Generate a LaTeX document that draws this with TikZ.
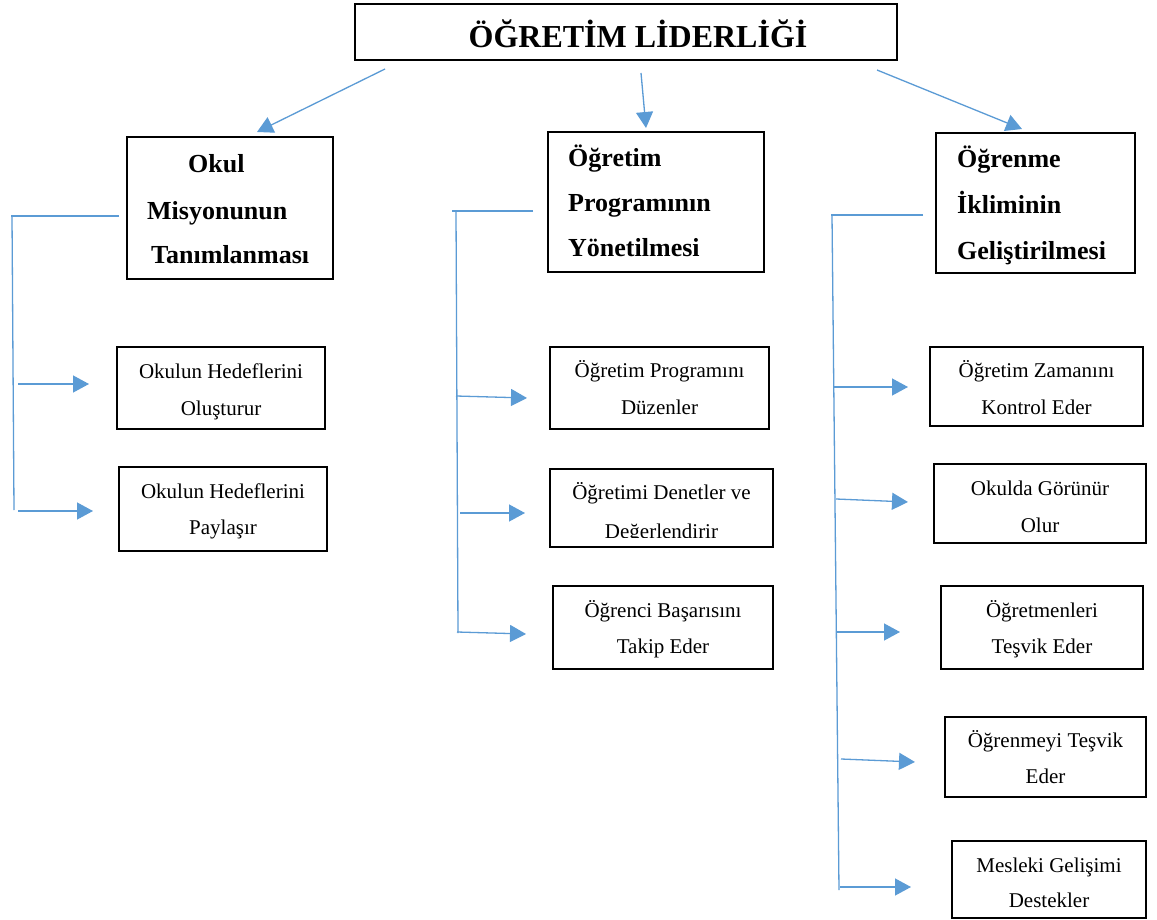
\documentclass[tikz,border=0pt]{standalone}
\usepackage{fontspec}
\setmainfont{Liberation Serif}
\usetikzlibrary{arrows.meta}
\definecolor{lineblue}{RGB}{91,155,213}
\begin{document}
\begin{tikzpicture}[x=1pt,y=-1pt,
  box/.style={draw=black, line width=1.2pt, inner sep=0pt, outer sep=0pt},
  blueline/.style={draw=lineblue, line width=1.3pt},
  arr/.style={blueline, -{Triangle[length=16pt 0 0,width=17pt 0 0]}},
  head/.style={font=\fontsize{26}{30}\selectfont\bfseries, anchor=base west, inner sep=0pt},
  sub/.style={font=\fontsize{21}{25}\selectfont, anchor=base, inner sep=0pt},
  ttl/.style={font=\fontsize{32}{36}\selectfont\bfseries, anchor=base, inner sep=0pt}]
\useasboundingbox[fill=white] (0,0) rectangle (1157,920);

% title
\node[box, minimum width=542pt, minimum height=56pt] (title) at (626,32) {};
\node[ttl] (ttltext) at (638,48) {ÖĞRETİM LİDERLİĞİ};

% headers
\node[box, minimum width=206pt, minimum height=142pt] (h1) at (230,208) {};
\node[head] (h1a) at (188,173) {Okul};
\node[head] (h1b) at (147,220) {Misyonunun};
\node[head] (h1c) at (151,264) {Tanımlanması};

\node[box, minimum width=216pt, minimum height=140pt] (h2) at (656,202) {};
\node[head] (h2a) at (568,167) {Öğretim};
\node[head] (h2b) at (568,212) {Programının};
\node[head] (h2c) at (568,257) {Yönetilmesi};

\node[box, minimum width=199pt, minimum height=140pt] (h3) at (1035.5,203) {};
\node[head] (h3a) at (957,168) {Öğrenme};
\node[head] (h3b) at (957,214) {İkliminin};
\node[head] (h3c) at (957,260) {Geliştirilmesi};

% left column boxes
\node[box, minimum width=208pt, minimum height=82pt] (a1) at (221,388) {};
\node[sub] (a1a) at (221,378) {Okulun Hedeflerini};
\node[sub] (a1b) at (221,415) {Oluşturur};
\node[box, minimum width=208pt, minimum height=84pt] (a2) at (223,509) {};
\node[sub] (a2a) at (223,498) {Okulun Hedeflerini};
\node[sub] (a2b) at (223,534) {Paylaşır};

% middle column boxes
\node[box, minimum width=219pt, minimum height=82pt] (b1) at (659.5,388) {};
\node[sub] (b1a) at (659.5,377) {Öğretim Programını};
\node[sub] (b1b) at (659.5,414) {Düzenler};
\node[box, minimum width=223pt, minimum height=78pt] (b2) at (661.5,508) {};
\node[sub] (b2a) at (661.5,499) {Öğretimi Denetler ve};
\begin{scope}
\clip (550,469) rectangle (773,537);
\node[sub] (b2b) at (661.5,538) {Değerlendirir};
\end{scope}
\node[box, minimum width=220pt, minimum height=83pt] (b3) at (663,627.5) {};
\node[sub] (b3a) at (663,617) {Öğrenci Başarısını};
\node[sub] (b3b) at (663,653) {Takip Eder};

% right column boxes
\node[box, minimum width=213pt, minimum height=79pt] (c1) at (1036.5,386.5) {};
\node[sub] (c1a) at (1036.5,377) {Öğretim Zamanını};
\node[sub] (c1b) at (1036.5,414) {Kontrol Eder};
\node[box, minimum width=212pt, minimum height=79pt] (c2) at (1040,503.5) {};
\node[sub] (c2a) at (1040,495) {Okulda Görünür};
\node[sub] (c2b) at (1040,532) {Olur};
\node[box, minimum width=202pt, minimum height=83pt] (c3) at (1042,627.5) {};
\node[sub] (c3a) at (1042,617) {Öğretmenleri};
\node[sub] (c3b) at (1042,653) {Teşvik Eder};
\node[box, minimum width=201pt, minimum height=80pt] (c4) at (1045.5,757) {};
\node[sub] (c4a) at (1045.5,747) {Öğrenmeyi Teşvik};
\node[sub] (c4b) at (1045.5,783) {Eder};
\node[box, minimum width=194pt, minimum height=77pt] (c5) at (1049,879.5) {};
\node[sub] (c5a) at (1049,872) {Mesleki Gelişimi};
\node[sub] (c5b) at (1049,907) {Destekler};

% connector end points
\coordinate (t1s) at (385,69);  \coordinate (t1e) at (257,132);
\coordinate (t2s) at (641,73);  \coordinate (t2e) at (646,128);
\coordinate (t3s) at (877,70);  \coordinate (t3e) at (1022,129);

\coordinate (ah) at (119,216); \coordinate (ac) at (11,216);
\coordinate (avt) at (12,216); \coordinate (avb) at (14,510);
\coordinate (a1s) at (18,384); \coordinate (a1e) at (89,384);
\coordinate (a2s) at (18,511); \coordinate (a2e) at (93,511);

\coordinate (bh) at (533,211); \coordinate (bc) at (452,211);
\coordinate (bvt) at (456,211); \coordinate (bvb) at (458,633);
\coordinate (b1s) at (456,396); \coordinate (b1e) at (527,398);
\coordinate (b2s) at (460,513); \coordinate (b2e) at (525,513);
\coordinate (b3s) at (457,632); \coordinate (b3e) at (526,634);

\coordinate (ch) at (923,215); \coordinate (cc) at (831,215);
\coordinate (cvt) at (832,215); \coordinate (cvb) at (839,890);
\coordinate (c1s) at (833,387); \coordinate (c1e) at (908,387);
\coordinate (c2s) at (836,499); \coordinate (c2e) at (908,502);
\coordinate (c3s) at (836,632); \coordinate (c3e) at (900,632);
\coordinate (c4s) at (841,759); \coordinate (c4e) at (915,762);
\coordinate (c5s) at (840,887); \coordinate (c5e) at (911,887);

% top arrows
\draw[arr] (t1s) -- (t1e);
\draw[arr] (t2s) -- (t2e);
\draw[arr] (t3s) -- (t3e);

% brackets
\draw[blueline] (ah) -- (ac); \draw[blueline] (avt) -- (avb);
\draw[arr] (a1s) -- (a1e);
\draw[arr] (a2s) -- (a2e);

\draw[blueline] (bh) -- (bc); \draw[blueline] (bvt) -- (bvb);
\draw[arr] (b1s) -- (b1e);
\draw[arr] (b2s) -- (b2e);
\draw[arr] (b3s) -- (b3e);

\draw[blueline] (ch) -- (cc); \draw[blueline] (cvt) -- (cvb);
\draw[arr] (c1s) -- (c1e);
\draw[arr] (c2s) -- (c2e);
\draw[arr] (c3s) -- (c3e);
\draw[arr] (c4s) -- (c4e);
\draw[arr] (c5s) -- (c5e);
\end{tikzpicture}
\end{document}
